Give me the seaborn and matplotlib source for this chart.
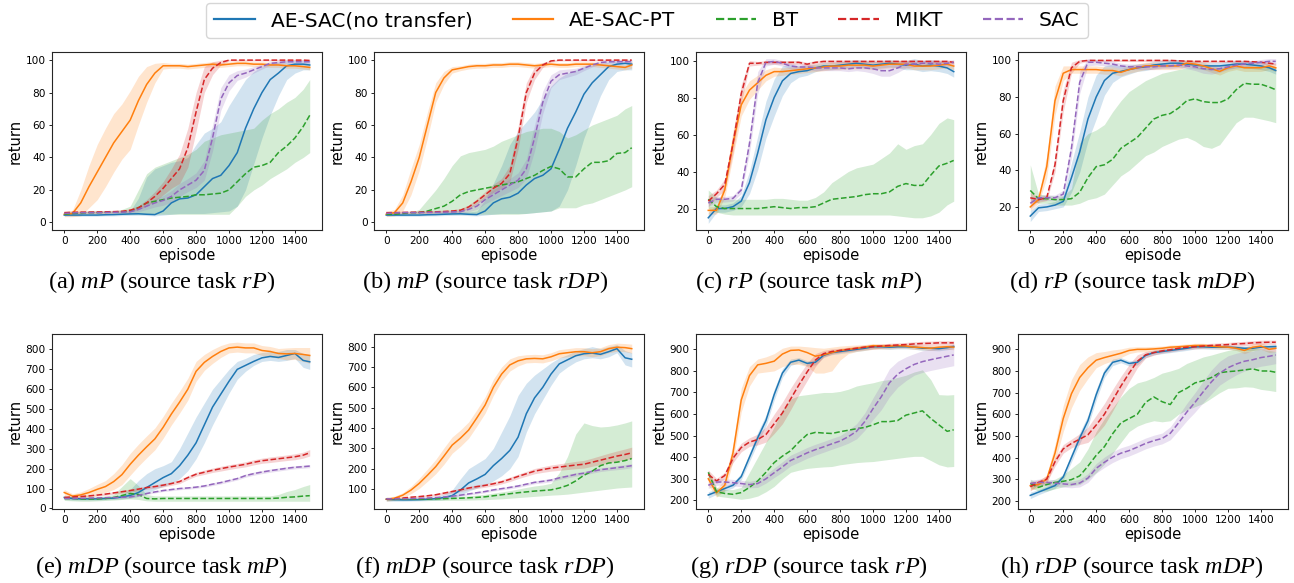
import matplotlib
matplotlib.use('Agg')
import matplotlib.pyplot as plt
import numpy as np
import pandas as pd
import seaborn as sns
from matplotlib.lines import Line2D

plt.rcParams['mathtext.fontset'] = 'custom'
plt.rcParams['mathtext.rm'] = 'Liberation Serif'
plt.rcParams['mathtext.it'] = 'Liberation Serif:italic'

EPISODES = list(range(0, 1451, 50)) + [1490]

METHODS = ['AE-SAC(no transfer)', 'AE-SAC-PT', 'BT', 'MIKT', 'SAC']

# ---- (a) mP, source rP ----
A_AESAC = [4.5, 4.5, 4.5, 4.5, 4.5, 4.7, 4.8, 5.0, 5.2, 5.3, 5.0, 4.8, 7, 12, 14.5, 15, 17, 22, 27, 29, 35, 43, 58, 70, 80, 88, 92, 96.5, 97.5, 97.5, 97]
A_AESAC_LO = [3.8, 3.8, 3.8, 3.8, 3.8, 4, 4, 4.2, 4.3, 4.4, 4.2, 4, 4.5, 5, 5.5, 5.5, 5.5, 5.5, 6, 6.5, 7, 10, 20, 36, 52, 66, 78, 88, 92, 94, 94]
A_AESAC_HI = [5.2, 5.2, 5.2, 5.2, 5.2, 5.4, 5.5, 6, 7, 15, 28, 33, 35, 37, 38, 40, 48, 55, 58, 62, 72, 80, 88, 93, 96, 98, 99, 99.5, 99.5, 99.5, 99.5]
A_PT = [5, 5.5, 12, 22, 31, 40, 49, 56, 63, 75, 85, 92, 96.5, 96.5, 96.5, 96, 96.5, 97, 97.5, 97, 97.5, 98, 98, 97.5, 97.5, 97, 97, 96.5, 96.5, 96, 95.5]
A_PT_SD = [1.5, 2, 8, 13, 17, 18, 18, 17, 18, 15, 11, 6, 2, 1.5, 1.5, 1.5, 1.5, 1.5, 1.5, 1.5, 1.5, 1.5, 1.5, 1.5, 1.5, 1.5, 1.5, 1.5, 1.5, 1.5, 1.5]
A_BT = [5, 5.5, 5.8, 6, 6, 6.2, 6.3, 6.5, 7, 9, 12, 13, 14, 15, 15.5, 16, 17, 17, 17.5, 18, 20, 25, 30, 34, 35, 37, 43, 47, 52, 59, 66]
A_BT_LO = [4.5, 5, 5, 5, 5, 5, 5, 5, 5, 5, 5, 5, 5, 5, 5, 5, 5, 5, 5, 5, 5, 10, 16, 20, 23, 27, 30, 33, 37, 40, 43]
A_BT_HI = [6, 6.5, 6.5, 7, 7, 7, 7, 8, 10, 20, 30, 34, 36, 38, 40, 42, 45, 50, 52, 54, 55, 56, 57, 58, 63, 67, 70, 74, 77, 82, 88]
A_MIKT = [6, 6.2, 6.3, 6.3, 6.4, 6.5, 6.6, 6.8, 7.5, 9, 12, 16, 21, 27, 33, 46, 68, 88, 95, 98.5, 100, 100, 100, 100, 100, 100, 100, 100, 100, 100, 99.8]
A_MIKT_SD = [0.8, 0.8, 0.8, 0.8, 0.8, 0.8, 0.8, 0.8, 1, 1.2, 2, 3, 4, 6, 9, 12, 12, 8, 4, 1.5, 0.5, 0.5, 0.5, 0.5, 0.5, 0.5, 0.5, 0.5, 0.5, 0.5, 0.5]
A_SAC = [5.5, 5.8, 6, 6, 6, 6.1, 6.2, 6.3, 6.5, 8, 10, 12, 13.5, 16, 20, 23, 26, 32, 52, 76, 86, 90.5, 92, 94, 96, 98, 98.5, 99, 99, 99, 99]
A_SAC_SD = [0.8, 0.8, 0.8, 0.8, 0.8, 0.8, 0.8, 0.8, 1, 1.5, 2, 2.5, 3, 3.5, 4, 4, 4.5, 6, 8, 7, 5, 3, 2.5, 2, 1.5, 1.2, 1, 1, 1, 1, 1]

# ---- (b) mP, source rDP ----
B_AESAC = [4.5, 4.5, 4.5, 4.5, 4.5, 4.7, 4.8, 5, 5.2, 5.3, 5, 4.8, 7, 12, 14.5, 15.5, 18, 23, 27, 29, 33, 45, 58, 68, 79, 86, 91, 96, 97.5, 98, 97.5]
B_AESAC_LO = [3.8, 3.8, 3.8, 3.8, 3.8, 4, 4, 4.2, 4.3, 4.4, 4.2, 4, 4.5, 5, 5.5, 5.5, 5.5, 5.5, 6, 6.5, 7, 10, 20, 35, 52, 65, 78, 88, 93, 94, 94]
B_AESAC_HI = [5.2, 5.2, 5.2, 5.2, 5.2, 5.4, 5.5, 6, 6.5, 6.5, 6.5, 7, 14, 24, 35, 48, 56, 62, 68, 76, 84, 89, 92, 94, 96, 97, 98, 99, 99.5, 99.5, 99.5]
B_PT = [5, 6, 12, 25, 40, 60, 80, 89, 94, 95, 96, 96.5, 96.5, 97, 97, 97.5, 97.5, 97, 96.5, 97, 97.5, 97, 97, 97.5, 97.5, 97.5, 97, 96.5, 96, 95.5, 97]
B_PT_SD = [1.5, 2, 5, 8, 8, 8, 6, 4, 2, 1.5, 1.5, 1.5, 1.5, 1.5, 1.5, 1.5, 1.5, 1.5, 1.5, 1.5, 1.5, 1.5, 1.5, 1.5, 1.5, 1.5, 1.5, 1.5, 1.5, 1.5, 2]
B_BT = [5, 5, 5.5, 6, 6, 7, 8.5, 10, 13, 17, 19, 20, 21, 22, 23, 24, 25, 27, 29, 32, 34.5, 33, 28, 28, 33, 37, 37, 38, 42.5, 43, 46]
B_BT_LO = [4.5, 4.5, 4.5, 5, 5, 5, 5, 5, 5, 5, 5, 5, 5, 5, 5, 5, 5, 5.5, 6, 6.5, 7, 9, 9, 9, 11, 12, 14, 16, 18, 20, 22]
B_BT_HI = [6, 6, 6, 6, 8, 14, 20, 27, 35, 41, 43, 44, 45, 47, 50, 52, 54, 56, 57, 58, 58, 56, 52, 54, 57, 60, 62, 64, 66, 70, 72]
B_MIKT = [6, 6, 6.1, 6.2, 6.3, 6.4, 6.5, 6.7, 7, 7.5, 9.5, 13, 17, 21, 24, 30, 52, 80, 92, 97, 99.5, 100, 100, 100, 100, 100, 100, 100, 100, 100, 100]
B_MIKT_SD = [0.8, 0.8, 0.8, 0.8, 0.8, 0.8, 0.8, 0.8, 0.8, 1, 1.2, 1.5, 2, 2.5, 3, 5, 7, 6, 4, 1.5, 0.6, 0.5, 0.5, 0.5, 0.5, 0.5, 0.5, 0.5, 0.5, 0.5, 0.5]
B_SAC = [5.5, 5.8, 6, 6, 6, 6.1, 6.2, 6.3, 6.4, 6.6, 8, 10, 14, 17, 20, 23, 26, 33, 52, 74, 87, 91, 92, 93, 95, 97, 98.5, 99, 99, 99, 99]
B_SAC_SD = [0.8, 0.8, 0.8, 0.8, 0.8, 0.8, 0.8, 0.8, 0.8, 1, 1.5, 2, 2.5, 3, 3.5, 4, 4.5, 6, 8, 7, 4, 3, 2.5, 2, 1.5, 1.2, 1, 1, 1, 1, 1]

# ---- (c) rP, source mP ----
C_AESAC = [15, 20, 20, 21, 24, 34, 50, 68, 80, 89, 93, 94, 94.5, 96, 97, 97, 97.5, 98, 98.5, 98, 97.5, 98, 98.5, 98, 97.5, 98, 97, 97.5, 97, 96, 94]
C_AESAC_SD = [3, 2, 2, 2, 3, 6, 9, 10, 10, 8, 5, 3, 2.5, 2, 2, 2, 2, 2, 2, 2, 2, 2, 2, 2, 2.5, 3, 3, 3, 3, 3, 3]
C_PT = [19, 19, 30, 55, 76, 84, 88, 92, 94, 94, 94.5, 95, 95.5, 96, 96.5, 97, 97, 97.5, 97.5, 97.5, 97, 97.5, 98, 98, 98, 97, 97, 97, 97.5, 98, 97]
C_PT_SD = [2, 2, 4, 7, 6, 5, 4, 3, 2.5, 2, 2, 2, 2, 2, 2, 2, 2, 2, 2, 2, 2, 2, 2, 2, 2, 2, 2, 2, 2, 2, 2]
C_BT = [25, 21, 20, 20, 20, 20, 20, 20.5, 21, 20.5, 20, 20.5, 20.5, 21, 23, 25, 25.5, 26, 26.5, 27.5, 28, 28, 29, 32, 33.5, 32.5, 32.5, 38, 43, 44.5, 46]
C_BT_LO = [20, 18, 17, 16.5, 16.5, 16.5, 16.5, 16.5, 16.5, 16.5, 16.5, 16.5, 16.5, 16.5, 16.5, 16.5, 16.5, 16.5, 16.5, 16.5, 16.5, 16.5, 16.5, 16, 15.5, 15, 15, 16, 18, 22, 24]
C_BT_HI = [30, 26, 25, 25, 25, 25, 25, 25, 25.5, 25.5, 25, 24.5, 24.5, 26, 29, 34, 37, 40, 42, 43, 44, 47, 50, 55, 52, 54, 55, 60, 66, 69, 68]
C_MIKT = [24, 28, 33, 55, 82, 98.5, 98.5, 99, 99, 99, 99, 99, 98, 99, 99.5, 99.5, 99.5, 99.5, 99.5, 99.5, 99.5, 99.5, 99.5, 99.5, 99.5, 99.5, 99.5, 99.5, 99.5, 99.5, 99]
C_MIKT_SD = [3, 2, 3, 5, 5, 1.5, 1, 1, 1, 1, 1, 1, 1, 1, 0.8, 0.8, 0.8, 0.8, 0.8, 0.8, 0.8, 0.8, 0.8, 0.8, 0.8, 0.8, 0.8, 0.8, 0.8, 0.8, 0.8]
C_SAC = [23, 25, 25, 25.5, 30, 55, 88, 99, 99.5, 98.5, 97, 96.5, 96.5, 96, 96, 96, 96, 95.5, 96, 96, 95.5, 94.5, 94.5, 96, 98, 98, 98.5, 98.5, 98, 98.5, 99]
C_SAC_SD = [2, 1.5, 1.5, 1.5, 2, 5, 6, 2, 1.5, 1.5, 1.5, 1.5, 1.5, 1.5, 1.5, 1.5, 1.5, 1.5, 1.5, 2, 2.5, 3, 3, 2.5, 2, 1.5, 1.5, 1.5, 1.5, 1.5, 1.5]

# ---- (d) rP, source mDP ----
D_AESAC = [15, 19.5, 20, 21, 23, 36, 50, 68, 80, 89, 93, 94, 95, 96, 96.5, 97.5, 98, 98.5, 98.5, 98, 97.5, 97, 97, 97, 97.5, 98, 98, 97.5, 97, 96, 94.5]
D_AESAC_SD = [3, 2, 2, 2, 3, 8, 11, 12, 12, 8, 5, 3, 2.5, 2, 2, 2, 2, 2, 2, 2, 2, 2, 2, 2, 2, 2, 2, 2, 2, 2, 2]
D_PT = [20, 24, 42, 78, 93, 95, 95, 95, 95, 94.5, 94.5, 93.5, 95, 96, 97, 97, 97, 97, 97, 98.5, 98, 97, 95.5, 94, 96, 97, 96, 96, 96, 97, 96]
D_PT_SD = [2, 2, 6, 8, 4, 2, 2, 2, 2, 2, 2, 2, 2, 2, 2, 2, 2, 2, 2, 2, 2, 2, 2, 2, 2, 2, 2, 2, 2, 2, 2]
D_BT = [29, 24.5, 24.5, 24, 24, 24.5, 28, 36, 42, 43, 46, 52, 55, 58, 63, 68, 70, 71, 74, 78, 79, 77.5, 77, 77, 79, 84, 87.5, 87, 87, 85.5, 84]
D_BT_LO = [24, 22, 22, 21, 21, 21, 22, 24, 25, 27, 32, 37, 40, 44, 48, 50, 53, 55, 57, 58, 56, 53, 52, 54, 60, 66, 69, 69, 68, 67, 66]
D_BT_HI = [43, 27, 26.5, 26, 26, 30, 55, 60, 62, 65, 72, 78, 83, 86, 89, 91, 93, 94, 95, 96, 96, 96, 96, 96, 96, 96.5, 97, 97, 97, 96.5, 96]
D_MIKT = [25, 24, 25, 43, 78, 96, 99.5, 100, 100, 100, 100, 100, 100, 100, 100, 100, 100, 100, 99.8, 99.6, 99.5, 99.5, 99.5, 99.5, 99.5, 99.5, 99.5, 99.3, 99, 98.5, 98]
D_MIKT_SD = [3, 1.5, 1.5, 4, 6, 3, 1, 0.6, 0.6, 0.6, 0.6, 0.6, 0.6, 0.6, 0.6, 0.6, 0.6, 0.6, 0.6, 0.6, 0.6, 0.6, 0.6, 0.6, 0.6, 0.6, 0.6, 0.6, 0.6, 0.6, 0.6]
D_SAC = [22, 25, 25, 25, 27, 52, 88, 99, 99, 98.5, 98, 97, 96.5, 96.5, 96.5, 96.5, 97, 97, 97.5, 97, 96.5, 95.5, 95, 95.5, 96.5, 97.5, 98, 98.5, 99, 99.5, 99.5]
D_SAC_SD = [3, 1.5, 1.5, 1.5, 2, 5, 6, 2, 1.5, 1.5, 1.5, 1.5, 1.5, 1.5, 1.5, 1.5, 1.5, 1.5, 1.5, 1.5, 2, 2.5, 2.5, 2, 1.5, 1.5, 1.5, 1.5, 1.5, 1.5, 1.5]

# ---- (e) mDP, source mP ----
E_AESAC = [55, 50, 48, 48, 48, 50, 52, 58, 65, 80, 105, 130, 155, 175, 215, 268, 330, 420, 510, 575, 640, 700, 720, 740, 758, 765, 760, 770, 780, 745, 738]
E_AESAC_LO = [45, 42, 42, 42, 42, 44, 45, 48, 52, 60, 75, 95, 110, 125, 150, 190, 250, 330, 420, 500, 580, 650, 690, 720, 740, 745, 740, 745, 755, 710, 700]
E_AESAC_HI = [65, 58, 55, 55, 55, 57, 60, 70, 95, 140, 175, 200, 215, 235, 300, 380, 460, 530, 600, 650, 700, 740, 755, 775, 785, 790, 790, 800, 800, 780, 775]
E_PT = [80, 62, 68, 80, 96, 110, 135, 170, 222, 268, 310, 350, 408, 475, 535, 600, 690, 735, 765, 790, 808, 812, 808, 808, 795, 790, 780, 778, 780, 775, 770]
E_PT_SD = [15, 12, 15, 20, 25, 30, 40, 50, 55, 55, 55, 55, 55, 55, 55, 55, 50, 40, 35, 30, 25, 25, 25, 25, 25, 25, 25, 30, 30, 35, 40]
E_BT = [50, 50, 48, 47, 48, 50, 55, 65, 75, 70, 50, 48, 50, 50, 50, 50, 50, 50, 50, 50, 50, 50, 50, 50, 50, 50, 52, 56, 58, 62, 64]
E_BT_LO = [40, 38, 36, 36, 38, 40, 42, 45, 48, 45, 38, 36, 36, 36, 36, 36, 36, 36, 36, 36, 36, 36, 36, 36, 36, 36, 36, 36, 36, 36, 36]
E_BT_HI = [60, 60, 58, 58, 60, 62, 70, 110, 150, 115, 70, 63, 63, 63, 63, 63, 63, 63, 63, 63, 63, 63, 63, 63, 63, 63, 70, 85, 95, 110, 120]
E_MIKT = [55, 58, 60, 63, 67, 72, 78, 84, 90, 97, 105, 110, 117, 125, 135, 155, 172, 182, 192, 200, 208, 215, 222, 232, 240, 245, 250, 255, 260, 268, 280]
E_MIKT_SD = [5, 5, 5, 5, 5, 6, 6, 7, 7, 8, 8, 8, 9, 9, 10, 10, 10, 11, 11, 12, 12, 12, 13, 13, 13, 14, 14, 14, 15, 15, 16]
E_SAC = [50, 50, 51, 52, 53, 54, 55, 56, 58, 65, 75, 83, 90, 95, 100, 103, 107, 113, 122, 130, 140, 150, 165, 175, 183, 190, 196, 202, 207, 210, 213]
E_SAC_SD = [4, 4, 4, 4, 4, 4, 4, 4, 5, 5, 5, 5, 5, 6, 6, 6, 6, 6, 7, 7, 7, 7, 8, 8, 8, 8, 8, 8, 8, 8, 8]

# ---- (f) mDP, source rDP ----
F_AESAC = [50, 48, 47, 47, 48, 50, 53, 58, 68, 95, 130, 150, 172, 215, 250, 290, 355, 470, 548, 600, 665, 715, 735, 755, 765, 768, 762, 775, 790, 745, 738]
F_AESAC_LO = [40, 40, 40, 41, 42, 43, 45, 48, 55, 70, 90, 105, 120, 140, 165, 200, 260, 380, 470, 540, 610, 670, 700, 725, 740, 745, 740, 750, 770, 710, 700]
F_AESAC_HI = [60, 56, 55, 55, 55, 58, 62, 75, 95, 150, 200, 225, 250, 300, 380, 460, 560, 620, 660, 690, 720, 745, 760, 780, 790, 800, 790, 800, 810, 780, 770]
F_PT = [50, 55, 70, 95, 128, 168, 210, 262, 316, 350, 390, 450, 513, 600, 665, 710, 730, 740, 742, 740, 750, 765, 770, 775, 775, 770, 775, 790, 797, 795, 790]
F_PT_SD = [10, 10, 12, 18, 25, 30, 35, 40, 40, 40, 40, 40, 40, 40, 35, 30, 25, 20, 20, 20, 20, 20, 20, 20, 20, 20, 20, 20, 20, 20, 22]
F_BT = [50, 50, 50, 50, 50, 51, 52, 53, 54, 55, 57, 59, 62, 67, 72, 77, 82, 86, 90, 93, 96, 105, 118, 140, 168, 188, 215, 228, 232, 240, 250]
F_BT_LO = [45, 44, 44, 44, 44, 44, 44, 44, 45, 45, 46, 47, 48, 50, 52, 55, 58, 61, 64, 67, 70, 72, 75, 80, 85, 90, 95, 100, 105, 108, 110]
F_BT_HI = [58, 56, 56, 56, 56, 57, 58, 60, 62, 64, 67, 70, 74, 80, 86, 92, 100, 108, 115, 120, 128, 180, 260, 370, 425, 412, 405, 408, 415, 425, 435]
F_MIKT = [50, 53, 56, 60, 63, 67, 72, 80, 88, 96, 105, 112, 118, 126, 135, 148, 162, 175, 188, 196, 203, 208, 213, 218, 222, 232, 242, 252, 262, 270, 278]
F_MIKT_SD = [5, 5, 5, 5, 5, 6, 6, 7, 7, 8, 8, 9, 9, 10, 10, 11, 11, 12, 13, 14, 15, 16, 17, 18, 19, 20, 22, 24, 25, 27, 28]
F_SAC = [52, 52, 52, 53, 54, 56, 58, 61, 65, 70, 76, 82, 88, 96, 102, 108, 115, 124, 133, 138, 144, 155, 163, 172, 178, 187, 195, 200, 205, 210, 215]
F_SAC_SD = [4, 4, 4, 4, 4, 4, 4, 5, 5, 5, 5, 6, 6, 6, 6, 7, 7, 7, 7, 8, 8, 8, 8, 9, 9, 9, 9, 9, 10, 10, 10]

# ---- (g) rDP, source rP ----
G_AESAC = [225, 240, 255, 270, 310, 400, 490, 570, 690, 790, 840, 850, 835, 840, 872, 885, 890, 895, 900, 905, 912, 912, 910, 912, 912, 910, 905, 905, 903, 908, 913]
G_AESAC_SD = [15, 12, 12, 12, 15, 20, 25, 25, 25, 20, 15, 12, 12, 12, 10, 10, 10, 10, 10, 10, 10, 10, 10, 10, 10, 10, 10, 10, 10, 10, 10]
G_PT = [300, 235, 270, 420, 665, 778, 828, 835, 845, 878, 895, 897, 885, 868, 875, 885, 895, 900, 905, 910, 917, 915, 915, 917, 915, 910, 908, 905, 910, 912, 910]
G_PT_LO = [270, 215, 245, 380, 610, 730, 790, 795, 800, 820, 830, 830, 820, 790, 790, 800, 850, 880, 890, 895, 900, 902, 902, 905, 905, 900, 898, 895, 898, 900, 898]
G_PT_HI = [330, 255, 295, 460, 720, 820, 855, 865, 880, 905, 915, 915, 912, 908, 905, 910, 915, 918, 920, 922, 927, 925, 925, 927, 925, 922, 920, 918, 920, 922, 920]
G_BT = [330, 240, 232, 228, 236, 260, 290, 330, 375, 405, 430, 470, 505, 515, 512, 510, 518, 525, 532, 538, 550, 565, 565, 570, 595, 605, 615, 580, 550, 520, 527]
G_BT_LO = [300, 220, 215, 210, 205, 210, 220, 240, 265, 300, 330, 340, 348, 352, 355, 357, 365, 370, 375, 378, 380, 385, 390, 395, 400, 404, 404, 385, 365, 355, 357]
G_BT_HI = [340, 260, 250, 250, 260, 330, 400, 470, 540, 620, 670, 685, 690, 695, 700, 700, 705, 715, 730, 738, 745, 755, 760, 770, 780, 795, 805, 760, 690, 688, 690]
G_MIKT = [320, 290, 315, 395, 445, 470, 482, 505, 555, 605, 670, 735, 795, 850, 880, 890, 895, 900, 905, 910, 912, 915, 918, 920, 922, 925, 927, 928, 930, 930, 930]
G_MIKT_SD = [20, 12, 15, 20, 20, 20, 25, 35, 45, 50, 50, 45, 40, 30, 15, 12, 10, 10, 10, 10, 10, 10, 10, 10, 10, 10, 10, 10, 10, 10, 10]
G_SAC = [270, 285, 285, 282, 278, 273, 278, 300, 328, 355, 385, 402, 420, 435, 448, 462, 475, 495, 520, 565, 625, 680, 745, 785, 810, 830, 843, 852, 860, 868, 874]
G_SAC_SD = [15, 15, 15, 15, 15, 15, 18, 20, 22, 24, 25, 25, 25, 25, 25, 25, 25, 30, 35, 40, 50, 60, 65, 60, 55, 50, 50, 50, 50, 50, 50]

# ---- (h) rDP, source mDP ----
H_AESAC = [225, 240, 255, 270, 310, 400, 490, 570, 690, 790, 840, 850, 835, 840, 872, 885, 890, 895, 900, 905, 912, 912, 910, 910, 910, 908, 905, 905, 910, 912, 913]
H_AESAC_SD = [15, 12, 12, 12, 15, 20, 25, 25, 25, 20, 15, 12, 12, 12, 10, 10, 10, 10, 10, 10, 10, 10, 10, 10, 10, 10, 10, 10, 10, 10, 10]
H_PT = [270, 275, 300, 420, 580, 695, 770, 815, 850, 862, 872, 882, 895, 900, 900, 902, 905, 910, 912, 915, 918, 918, 915, 912, 910, 905, 895, 910, 915, 900, 905]
H_PT_SD = [20, 15, 20, 40, 60, 65, 60, 50, 35, 28, 25, 20, 15, 12, 12, 12, 10, 10, 10, 10, 10, 10, 10, 10, 10, 10, 15, 15, 15, 15, 15]
H_BT = [280, 262, 275, 285, 290, 298, 315, 360, 410, 450, 510, 560, 580, 600, 655, 680, 658, 645, 700, 720, 745, 755, 770, 792, 797, 800, 805, 810, 800, 800, 794]
H_BT_LO = [260, 245, 245, 255, 265, 270, 275, 300, 330, 370, 420, 470, 520, 545, 560, 570, 565, 570, 600, 620, 635, 650, 675, 700, 720, 722, 727, 725, 715, 710, 705]
H_BT_HI = [300, 280, 290, 300, 320, 350, 380, 440, 520, 580, 630, 680, 720, 745, 755, 770, 790, 800, 812, 835, 850, 865, 874, 885, 895, 902, 905, 905, 900, 895, 890]
H_MIKT = [265, 285, 300, 380, 440, 465, 485, 505, 550, 600, 665, 730, 790, 845, 875, 885, 893, 898, 905, 910, 912, 915, 918, 920, 922, 925, 927, 930, 932, 933, 933]
H_MIKT_SD = [20, 12, 15, 20, 20, 20, 25, 35, 45, 50, 50, 45, 40, 30, 15, 12, 10, 10, 10, 10, 10, 10, 10, 10, 10, 10, 10, 10, 10, 10, 10]
H_SAC = [280, 285, 285, 282, 278, 275, 282, 305, 350, 378, 402, 420, 432, 448, 465, 478, 488, 512, 560, 610, 655, 704, 750, 790, 815, 832, 845, 852, 862, 868, 874]
H_SAC_SD = [15, 15, 15, 15, 15, 15, 18, 20, 22, 24, 25, 25, 25, 25, 25, 25, 25, 30, 35, 40, 45, 50, 55, 55, 55, 50, 45, 40, 40, 40, 40]

CAPTIONS = [
    r'(a) $mP$ (source task $rP$)', r'(b) $mP$ (source task $rDP$)',
    r'(c) $rP$ (source task $mP$)', r'(d) $rP$ (source task $mDP$)',
    r'(e) $mDP$ (source task $mP$)', r'(f) $mDP$ (source task $rDP$)',
    r'(g) $rDP$ (source task $rP$)', r'(h) $rDP$ (source task $mDP$)',
]
Y_TICKS = [
    range(0, 101, 20), range(0, 101, 20), range(20, 101, 20), range(20, 101, 20),
    range(0, 801, 100), range(100, 801, 100), range(200, 901, 100), range(200, 901, 100),
]
Y_LIMS = [(-4.7, 105), (-4.7, 105), (8.4, 104.6), (7.4, 104.6),
          (-3, 878), (2, 862), (160, 971), (162, 971)]


def sym(mean, sd):
    m = np.asarray(mean, float)
    s = np.asarray(sd, float)
    return m, m - s, m + s


def asym(mean, lo, hi):
    return np.asarray(mean, float), np.asarray(lo, float), np.asarray(hi, float)


PANEL_SERIES = [
    [asym(A_AESAC, A_AESAC_LO, A_AESAC_HI), sym(A_PT, A_PT_SD), asym(A_BT, A_BT_LO, A_BT_HI),
     sym(A_MIKT, A_MIKT_SD), sym(A_SAC, A_SAC_SD)],
    [asym(B_AESAC, B_AESAC_LO, B_AESAC_HI), sym(B_PT, B_PT_SD), asym(B_BT, B_BT_LO, B_BT_HI),
     sym(B_MIKT, B_MIKT_SD), sym(B_SAC, B_SAC_SD)],
    [sym(C_AESAC, C_AESAC_SD), sym(C_PT, C_PT_SD), asym(C_BT, C_BT_LO, C_BT_HI),
     sym(C_MIKT, C_MIKT_SD), sym(C_SAC, C_SAC_SD)],
    [sym(D_AESAC, D_AESAC_SD), sym(D_PT, D_PT_SD), asym(D_BT, D_BT_LO, D_BT_HI),
     sym(D_MIKT, D_MIKT_SD), sym(D_SAC, D_SAC_SD)],
    [asym(E_AESAC, E_AESAC_LO, E_AESAC_HI), sym(E_PT, E_PT_SD), asym(E_BT, E_BT_LO, E_BT_HI),
     sym(E_MIKT, E_MIKT_SD), sym(E_SAC, E_SAC_SD)],
    [asym(F_AESAC, F_AESAC_LO, F_AESAC_HI), sym(F_PT, F_PT_SD), asym(F_BT, F_BT_LO, F_BT_HI),
     sym(F_MIKT, F_MIKT_SD), sym(F_SAC, F_SAC_SD)],
    [sym(G_AESAC, G_AESAC_SD), asym(G_PT, G_PT_LO, G_PT_HI), asym(G_BT, G_BT_LO, G_BT_HI),
     sym(G_MIKT, G_MIKT_SD), sym(G_SAC, G_SAC_SD)],
    [sym(H_AESAC, H_AESAC_SD), sym(H_PT, H_PT_SD), asym(H_BT, H_BT_LO, H_BT_HI),
     sym(H_MIKT, H_MIKT_SD), sym(H_SAC, H_SAC_SD)],
]

PALETTE = dict(zip(METHODS, sns.color_palette('tab10', 5)))
DASHES = {'AE-SAC(no transfer)': '', 'AE-SAC-PT': '', 'BT': (3.7, 1.6),
          'MIKT': (3.7, 1.6), 'SAC': (3.7, 1.6)}

W, H = 1294, 583
COL_LEFT = [52, 374, 696, 1018]
AX_W = 270
ROWS = [(52, 230), (334, 509)]
CAP_Y = [282, 567]

fig = plt.figure(figsize=(W / 100, H / 100), dpi=100)

for i, series in enumerate(PANEL_SERIES):
    row, col = divmod(i, 4)
    top, bot = ROWS[row]
    ax = fig.add_axes([COL_LEFT[col] / W, 1 - bot / H, AX_W / W, (bot - top) / H])

    frames = []
    for name, (mean, lo, hi) in zip(METHODS, series):
        if len(mean) != len(EPISODES):
            raise ValueError(f'panel {i} {name}: {len(mean)} points')
        ax.fill_between(EPISODES, lo, hi, color=PALETTE[name], alpha=0.2, linewidth=0)
        frames.append(pd.DataFrame({'episode': EPISODES, 'return': mean, 'method': name}))
    df = pd.concat(frames, ignore_index=True)

    sns.lineplot(data=df, x='episode', y='return', hue='method', style='method',
                 hue_order=METHODS, style_order=METHODS, palette=PALETTE,
                 dashes=DASHES, linewidth=1.1, errorbar=None, legend=False, ax=ax)

    ax.set_xlim(-74.5, 1564.5)
    ax.set_xticks(range(0, 1401, 200))
    ax.set_ylim(*Y_LIMS[i])
    ax.set_yticks(list(Y_TICKS[i]))
    ax.tick_params(labelsize=7.6, length=2.5, width=0.6, pad=2)
    ax.set_xlabel('episode', fontsize=10.5, labelpad=1.5)
    ax.set_ylabel('return', fontsize=10.5, labelpad=2)
    for sp in ax.spines.values():
        sp.set_linewidth(0.8)
        sp.set_color('0.15')

    fig.text((col + 0.5) / 4, 1 - CAP_Y[row] / H, CAPTIONS[i],
             family='Liberation Serif', fontsize=17.5, ha='center', va='center')

handles = [Line2D([], [], color=PALETTE[m], linewidth=1.6,
                  linestyle='-' if DASHES[m] == '' else '--') for m in METHODS]
fig.legend(handles, METHODS, loc='upper center', bbox_to_anchor=(0.5, 1.0),
           ncol=5, fontsize=14.5, borderaxespad=0.15, frameon=True)

fig.savefig('out.png', dpi=100)
